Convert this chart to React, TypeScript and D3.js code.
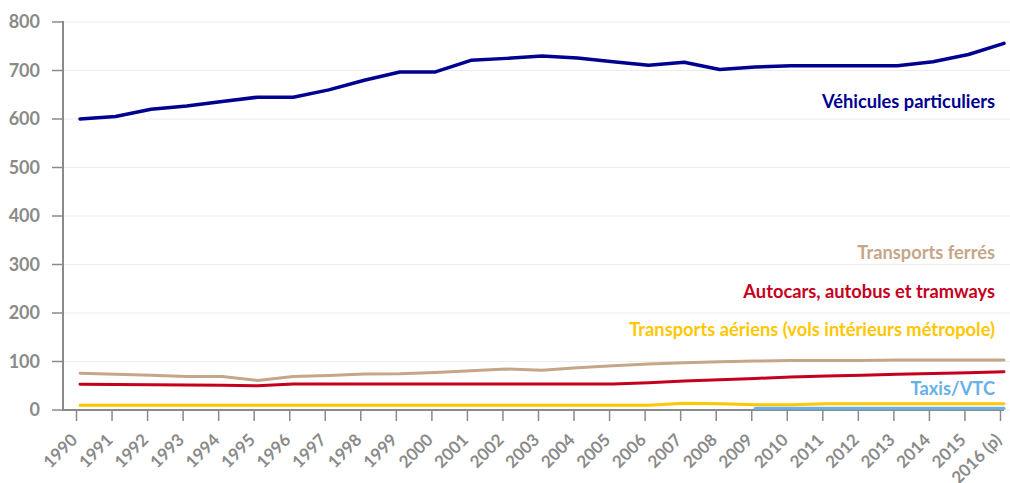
import React from "react";
import * as d3 from "d3";

const years = ["1990","1991","1992","1993","1994","1995","1996","1997","1998","1999","2000","2001","2002","2003","2004","2005","2006","2007","2008","2009","2010","2011","2012","2013","2014","2015","2016 (p)"];
const yTicks = [0, 100, 200, 300, 400, 500, 600, 700, 800];

const vehicules = [600, 605, 620, 627, 636, 645, 645, 660, 680, 697, 697, 721, 725, 730, 726, 718, 711, 717, 702, 707, 710, 710, 710, 710, 718, 733, 756];
const ferres = [76, 73.5, 71.5, 69, 69, 61, 69, 71, 74, 74.5, 77.5, 81, 84.5, 82, 87, 91, 95, 97.5, 99.5, 101, 102, 102, 102, 103, 103, 103, 103];
const autocars = [53, 52.5, 52, 51.5, 51, 50, 53.5, 53.5, 53.5, 53.5, 53.5, 53.5, 53.5, 53.5, 53.5, 53.5, 56, 60, 62.5, 65, 68, 70, 71.5, 73.5, 75.5, 77, 79];
const aeriens = [10, 10, 10, 10, 10, 10, 10, 10, 10, 10, 10, 10, 10, 10, 10, 10, 10, 14, 13, 11, 11, 13, 13, 13, 13, 13, 13];
const taxis: (number | null)[] = [null, null, null, null, null, null, null, null, null, null, null, null, null, null, null, null, null, null, null, 3.5, 3.5, 3.5, 3.5, 3.5, 3.5, 3.5, 3.5];

const seriesNames = ["Véhicules particuliers", "Transports ferrés", "Autocars, autobus et tramways", "Transports aériens (vols intérieurs métropole)", "Taxis/VTC"];
const seriesColors = ["#000091", "#c6a689", "#c5001d", "#ffc700", "#68b0e8"];
const seriesData = [vehicules, ferres, autocars, aeriens, taxis];
const labelValues = [622.7, 310.7, 231.5, 152.6, 30.9];

export default function App() {
  const W = 1010, H = 483;
  const x = d3.scalePoint<string>().domain(years).range([80, 1004]);
  const y = d3.scaleLinear().domain([0, 800]).range([410, 22]);
  const line = d3.line<number | null>()
    .defined((d) => d !== null)
    .x((_, i) => x(years[i]) as number)
    .y((d) => y(d as number));
  const font = "Lato, 'Open Sans', sans-serif";
  const gray = "#8a8a8a";
  const tickOff = -3.5;

  return (
    <svg width={W} height={H} style={{ position: "absolute", left: 0, top: 0, fontFamily: font }}>
      {yTicks.map((t) => (
        <g key={t}>
          <line x1={63} x2={1010} y1={y(t)} y2={y(t)} stroke="#ececec" strokeWidth={1} />
          <line x1={52} x2={63} y1={y(t)} y2={y(t)} stroke={gray} strokeWidth={1.5} />
          <text x={40} y={y(t)} dy="0.36em" textAnchor="end" fill={gray} fontSize={18} fontWeight={700}>{t}</text>
        </g>
      ))}
      <line x1={63} x2={63} y1={21} y2={410} stroke={gray} strokeWidth={2} />
      <line x1={62} x2={1004} y1={410} y2={410} stroke={gray} strokeWidth={2} />
      {years.map((yr) => {
        const tx = (x(yr) as number) + tickOff;
        return (
          <g key={yr}>
            <line x1={tx} x2={tx} y1={410} y2={421} stroke={gray} strokeWidth={1.5} />
            <text transform={`translate(${tx + 2},${441}) rotate(-45)`} textAnchor="end" fill={gray} fontSize={17} fontWeight={700}>{yr}</text>
          </g>
        );
      })}
      {seriesData.map((s, i) => (
        <path key={i} d={line(s) || ""} fill="none" stroke={seriesColors[i]} strokeWidth={i === 0 ? 3.5 : 3} strokeLinejoin="round" strokeLinecap="round" />
      ))}
      {seriesNames.map((n, i) => (
        <text key={n} x={995} y={y(labelValues[i])} textAnchor="end" fill={seriesColors[i]} fontSize={18.3} fontWeight={700}>{n}</text>
      ))}
    </svg>
  );
}
